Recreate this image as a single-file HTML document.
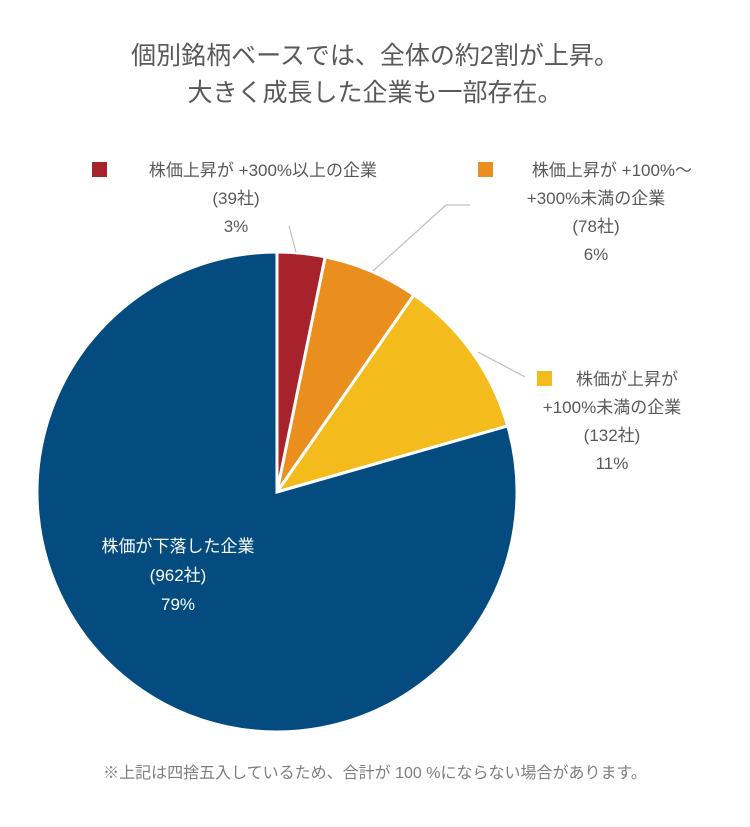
<!DOCTYPE html>
<html><head><meta charset="utf-8"><style>
body{margin:0;background:#fff;}
svg text{font-family:"Liberation Sans","Noto Sans CJK JP",sans-serif;}
</style></head><body>
<svg width="750" height="822" viewBox="0 0 750 822" xmlns="http://www.w3.org/2000/svg">
<text x="375" y="64" text-anchor="middle" font-size="25" fill="#595959">個別銘柄ベースでは、全体の約2割が上昇。</text>
<text x="375" y="101" text-anchor="middle" font-size="25" fill="#595959">大きく成長した企業も一部存在。</text>
<g id="slices"></g>
<g stroke="#bfbfbf" stroke-width="1.2" fill="none">
<polyline points="289,226 296,252"/>
<polyline points="470,205 446,205 373,271"/>
<polyline points="525,377 478,352"/>
</g>
<g font-size="17" fill="#595959" text-anchor="middle">
<rect x="92" y="162" width="15" height="15" fill="#a8222b"/>
<text x="263" y="176">株価上昇が +300%以上の企業</text>
<text x="236" y="204">(39社)</text>
<text x="236" y="232">3%</text>
</g>
<g font-size="17" fill="#595959" text-anchor="middle">
<rect x="478" y="162" width="15" height="15" fill="#ea8f1e"/>
<text x="612" y="176">株価上昇が +100%～</text>
<text x="596" y="204">+300%未満の企業</text>
<text x="596" y="232">(78社)</text>
<text x="596" y="260">6%</text>
</g>
<g font-size="17" fill="#595959" text-anchor="middle">
<rect x="537" y="371" width="15" height="15" fill="#f3bc1c"/>
<text x="627" y="385">株価が上昇が</text>
<text x="612" y="413">+100%未満の企業</text>
<text x="612" y="441">(132社)</text>
<text x="612" y="469">11%</text>
</g>
<g font-size="17" fill="#ffffff" text-anchor="middle">
<text x="178" y="552">株価が下落した企業</text>
<text x="178" y="581">(962社)</text>
<text x="178" y="610">79%</text>
</g>
<text x="375" y="778" text-anchor="middle" font-size="16" fill="#7f7f7f">※上記は四捨五入しているため、合計が 100 %にならない場合があります。</text>
</svg>
<script>
const categories = ["+300%以上", "+100%～+300%未満", "+100%未満", "下落"];
const counts = [39, 78, 132, 962];
const colors = ["#a8222b", "#ea8f1e", "#f3bc1c", "#044c7f"];
const cx = 277, cy = 492, r = 240;
const g = document.getElementById('slices');
const total = counts.reduce((a, b) => a + b, 0);
let acc = 0;
function pt(frac) { const a = frac * 2 * Math.PI - Math.PI / 2; return [cx + r * Math.cos(a), cy + r * Math.sin(a)]; }
counts.forEach((v, i) => {
  const s = acc / total, e = (acc + v) / total; acc += v;
  const [x1, y1] = pt(s), [x2, y2] = pt(e);
  const large = (e - s) > 0.5 ? 1 : 0;
  const p = document.createElementNS('http://www.w3.org/2000/svg', 'path');
  p.setAttribute('d', `M${cx},${cy} L${x1},${y1} A${r},${r} 0 ${large} 1 ${x2},${y2} Z`);
  p.setAttribute('fill', colors[i]);
  p.setAttribute('stroke', '#fff');
  p.setAttribute('stroke-width', '3');
  
  
  g.appendChild(p);
});
</script>
</body></html>
